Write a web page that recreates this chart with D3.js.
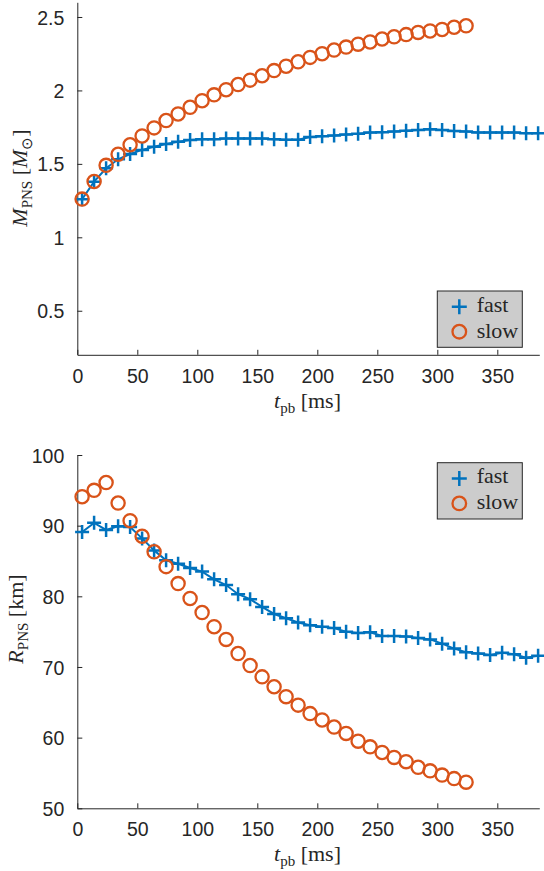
<!DOCTYPE html>
<html>
<head>
<meta charset="utf-8">
<script src="https://cdn.jsdelivr.net/npm/d3@7"></script>
<style>
  html, body { margin: 0; padding: 0; background: #fff; }
  svg { display: block; }
  .tick text { font-family: "Liberation Sans", Arial, sans-serif; font-size: 19.5px; fill: #262626; }
  .lbl { font-family: "Liberation Serif", "Times New Roman", serif; fill: #262626; }
</style>
</head>
<body>
<svg id="chart" width="544" height="871"></svg>
<script>
// ---------------- data ----------------
const tFast = [4, 14, 24, 34, 44, 54, 64, 74, 84, 94, 104, 114, 124, 134, 144, 154, 164, 174, 184, 194,
               204, 214, 224, 234, 244, 254, 264, 274, 284, 294, 304, 314, 324, 334, 344, 354, 364, 374, 384];
const tSlow = [4, 14, 24, 34, 44, 54, 64, 74, 84, 94, 104, 114, 124, 134, 144, 154, 164, 174, 184, 194,
               204, 214, 224, 234, 244, 254, 264, 274, 284, 294, 304, 314, 324];

const massFast = [1.259, 1.379, 1.47, 1.531, 1.567, 1.595, 1.617, 1.635, 1.651, 1.662, 1.668, 1.668, 1.672, 1.672,
                  1.672, 1.672, 1.667, 1.665, 1.665, 1.683, 1.688, 1.693, 1.70, 1.705, 1.714, 1.716, 1.72, 1.726,
                  1.731, 1.735, 1.731, 1.724, 1.72, 1.713, 1.713, 1.713, 1.713, 1.708, 1.708];
const massSlow = [1.26, 1.38, 1.49, 1.565, 1.63, 1.69, 1.745, 1.795, 1.84, 1.885, 1.93, 1.97, 2.005, 2.04,
                  2.07, 2.10, 2.135, 2.165, 2.195, 2.225, 2.25, 2.275, 2.295, 2.315, 2.33, 2.35, 2.365, 2.38,
                  2.395, 2.405, 2.415, 2.43, 2.44];

const radFast = [89.1, 90.4, 89.4, 89.9, 89.8, 88.2, 86.5, 85.1, 84.6, 84.0, 83.5, 82.4, 81.6, 80.3, 79.6,
                 78.5, 77.5, 76.9, 76.3, 75.9, 75.7, 75.5, 75.0, 74.8, 74.9, 74.4, 74.4, 74.3, 74.1, 73.9,
                 73.3, 72.6, 72.1, 71.9, 71.7, 72.0, 71.8, 71.3, 71.6];
const radSlow = [94.1, 95.0, 96.1, 93.2, 90.7, 88.5, 86.3, 84.2, 81.8, 79.7, 77.7, 75.7, 73.9, 71.9, 70.2,
                 68.6, 67.2, 65.8, 64.6, 63.4, 62.5, 61.5, 60.6, 59.5, 58.7, 57.9, 57.2, 56.6, 55.8, 55.3,
                 54.7, 54.2, 53.7];

const xTicks = [0, 50, 100, 150, 200, 250, 300, 350];
const massTicks = [0.5, 1, 1.5, 2, 2.5];
const radTicks = [50, 60, 70, 80, 90, 100];
const seriesNames = ["fast", "slow"];

// ---------------- styles ----------------
const BLUE = "#0072BD", ORANGE = "#D95319", AX = "#262626";
const svg = d3.select("#chart");

function plus(sel, size) {
  return sel.attr("d", `M${-size},0H${size}M0,${-size}V${size}`);
}

function drawPanel(opt) {
  const g = svg.append("g");
  const x = d3.scaleLinear().domain([0, 385]).range([77.3, 539.3]);
  const y = d3.scaleLinear().domain(opt.yDomain).range(opt.yRange);

  // axes
  const xa = g.append("g").attr("transform", `translate(0,${opt.yRange[0]})`)
    .call(d3.axisBottom(x).tickValues(xTicks).tickFormat(d3.format("d")).tickSizeInner(-5).tickSizeOuter(0).tickPadding(14.2));
  const ya = g.append("g").attr("transform", `translate(${x.range()[0]},0)`)
    .call(d3.axisLeft(y).tickValues(opt.yTicks).tickFormat(d => String(d)).tickSizeInner(-5).tickSizeOuter(0).tickPadding(13));
  [xa, ya].forEach(a => {
    a.select(".domain").attr("stroke", AX).attr("stroke-width", 1);
    a.selectAll(".tick line").attr("stroke", AX).attr("stroke-width", 1);
  });
  ya.selectAll(".tick text").attr("dy", "0.36em");

  // fast: line + plus markers
  const line = d3.line().x((d, i) => x(tFast[i])).y(d => y(d));
  g.append("path").datum(opt.fast).attr("d", line)
    .attr("fill", "none").attr("stroke", BLUE).attr("stroke-width", 2);
  g.selectAll("path.pf").data(opt.fast).enter().append("path").attr("class", "pf")
    .call(plus, 7)
    .attr("transform", (d, i) => `translate(${x(tFast[i])},${y(d)})`)
    .attr("stroke", BLUE).attr("stroke-width", 2.5).attr("fill", "none");

  // slow: open circles
  g.selectAll("circle.cs").data(opt.slow).enter().append("circle").attr("class", "cs")
    .attr("cx", (d, i) => x(tSlow[i])).attr("cy", d => y(d)).attr("r", 6.6)
    .attr("fill", "none").attr("stroke", ORANGE).attr("stroke-width", 2.3);

  // x label
  const xl = g.append("text").attr("class", "lbl").attr("x", 307.5).attr("y", opt.yRange[0] + 53)
    .attr("text-anchor", "middle").style("font-size", "22px");
  xl.append("tspan").style("font-style", "italic").text("t");
  xl.append("tspan").style("font-size", "15px").attr("dy", 5).text("pb");
  xl.append("tspan").attr("dy", -5).text(" [ms]");

  // y label
  const yl = g.append("text").attr("class", "lbl")
    .attr("transform", `translate(${opt.ylx},${opt.yly}) rotate(-90)`)
    .attr("text-anchor", "middle").style("font-size", "22px");
  opt.ylabel(yl);

  // legend
  const lg = g.append("g").attr("transform", `translate(437.3,${opt.legY})`);
  lg.append("rect").attr("width", 85).attr("height", 56.3)
    .attr("fill", "#cccccc").attr("stroke", AX).attr("stroke-width", 1);
  lg.append("path").call(plus, 7.5).attr("transform", "translate(22,15.7)")
    .attr("stroke", BLUE).attr("stroke-width", 2.5).attr("fill", "none");
  lg.append("circle").attr("cx", 22).attr("cy", 40.7).attr("r", 6.8)
    .attr("fill", "none").attr("stroke", ORANGE).attr("stroke-width", 2.3);
  lg.selectAll("text").data(seriesNames).enter().append("text").attr("class", "lbl")
    .attr("x", 39.4).attr("y", (d, i) => i === 0 ? 20.7 : 46.7)
    .style("font-size", "22px").text(d => d);
}

drawPanel({
  yDomain: [0.2, 2.6], yRange: [354.8, 2.3], yTicks: massTicks,
  fast: massFast, slow: massSlow, legY: 291, ylx: 26.5, yly: 178,
  ylabel: t => {
    t.append("tspan").style("font-style", "italic").text("M");
    t.append("tspan").style("font-size", "15px").attr("dy", 5).text("PNS");
    t.append("tspan").attr("dy", -5).text(" [");
    t.append("tspan").style("font-style", "italic").text("M");
    t.append("tspan").style("font-size", "15px").attr("dy", 5).text("⊙");
    t.append("tspan").attr("dy", -5).text("]");
  }
});

drawPanel({
  yDomain: [50, 100], yRange: [808.3, 455], yTicks: radTicks,
  fast: radFast, slow: radSlow, legY: 462.7, ylx: 22.7, yly: 619,
  ylabel: t => {
    t.append("tspan").style("font-style", "italic").text("R");
    t.append("tspan").style("font-size", "15px").attr("dy", 5).text("PNS");
    t.append("tspan").attr("dy", -5).text(" [km]");
  }
});
</script>
</body>
</html>
